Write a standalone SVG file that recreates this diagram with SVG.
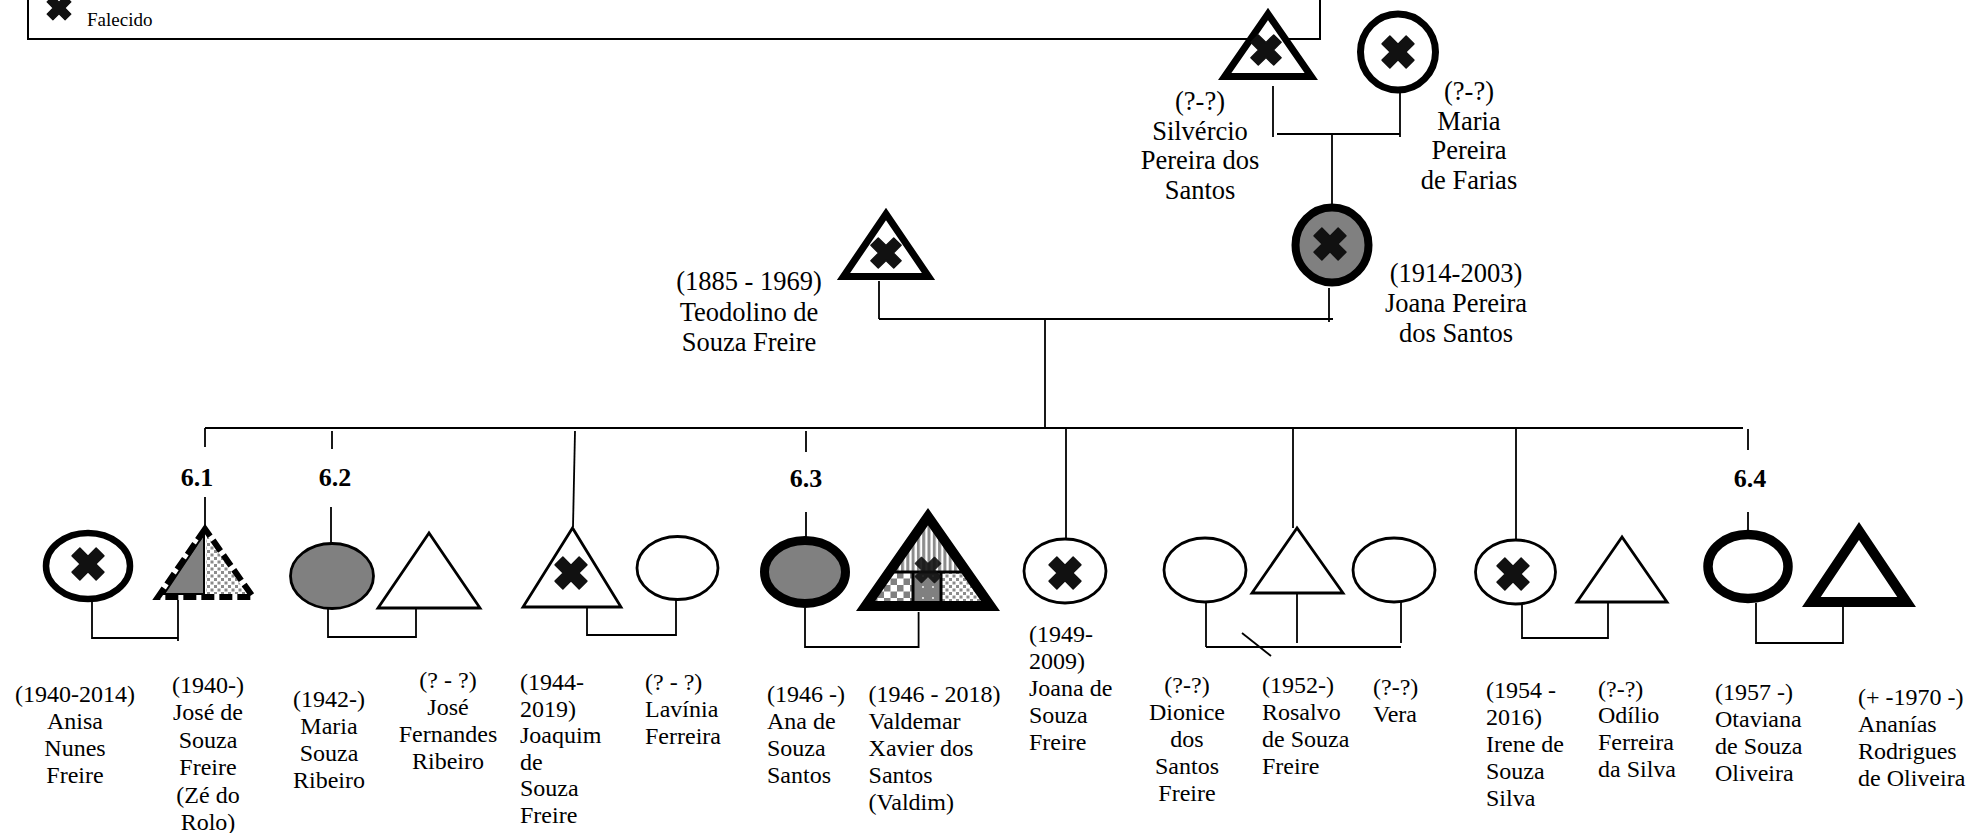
<svg xmlns="http://www.w3.org/2000/svg" xmlns:xlink="http://www.w3.org/1999/xlink" width="1982" height="833" viewBox="0 0 1982 833">
  <style>
    .ln { stroke: #000; stroke-width: 1.8; fill: none; }
    .t { font-family: "Liberation Serif", "Times New Roman", serif; font-size: 24px; fill: #000; }
    .tt { font-size: 26.5px; }
    .c { text-anchor: middle; }
    .lbl { font-family: "Liberation Serif", "Times New Roman", serif; font-size: 26px; font-weight: bold; text-anchor: middle; fill: #000; }
    .thin { fill: #fff; stroke: #000; stroke-width: 2.8; }
    .thick { fill: #fff; stroke: #000; stroke-width: 7; stroke-linejoin: miter; }
    .heavy { fill: #fff; stroke: #000; stroke-width: 9.5; stroke-linejoin: miter; }
    .gray { fill: #808080; }
  </style>
  <defs>
    <!-- deceased mark: a bold X -->
    <path id="xm" d="M-5.5,-17 H5.5 V-5.5 H17 V5.5 H5.5 V17 H-5.5 V5.5 H-17 V-5.5 H-5.5 Z" transform="rotate(45)" fill="#111" stroke="#111" stroke-width="1.5" stroke-linejoin="round"/>
    <pattern id="dots" width="7" height="7" patternUnits="userSpaceOnUse">
      <rect width="7" height="7" fill="#fff"/>
      <rect x="0.5" y="0.5" width="3" height="3" fill="#8c8c8c"/>
      <rect x="4" y="4" width="3" height="3" fill="#8c8c8c"/>
    </pattern>
    <pattern id="vstripes" width="5.3" height="6" patternUnits="userSpaceOnUse">
      <rect width="5.3" height="6" fill="#fff"/>
      <rect width="3" height="6" fill="#8c8c8c"/>
    </pattern>
    <pattern id="checker" width="13" height="13" patternUnits="userSpaceOnUse">
      <rect width="13" height="13" fill="#fff"/>
      <rect width="6.5" height="6.5" fill="#808080"/>
      <rect x="6.5" y="6.5" width="6.5" height="6.5" fill="#808080"/>
    </pattern>
    <pattern id="speck" width="10" height="11" patternUnits="userSpaceOnUse">
      <rect width="10" height="11" fill="#808080"/>
      <circle cx="3" cy="4" r="0.9" fill="#fff"/>
    </pattern>
    <clipPath id="valdemarClip">
      <polygon points="928,516.7 865.6,606 990.4,606"/>
    </clipPath>
  </defs>

  <rect width="1982" height="833" fill="#fff"/>

  <!-- legend (lower part) -->
  <g id="legend">
    <rect x="28" y="-20" width="1292" height="59" fill="#fff" stroke="#000" stroke-width="2"/>
    <use href="#xm" transform="translate(59,8) scale(0.75)"/>
    <text class="t" x="87" y="26" style="font-size:19px">Falecido</text>
  </g>

  <!-- connectors -->
  <g id="connectors" class="ln">
    <!-- Silvércio + Maria -->
    <line x1="1273" y1="86" x2="1273" y2="137"/>
    <line x1="1277" y1="134" x2="1400" y2="134"/>
    <line x1="1400" y1="93" x2="1400" y2="137"/>
    <line x1="1332" y1="134" x2="1332" y2="206"/>
    <!-- Teodolino + Joana Pereira -->
    <line x1="879" y1="281" x2="879" y2="319"/>
    <line x1="879" y1="319" x2="1333" y2="319"/>
    <line x1="1329" y1="288" x2="1329" y2="322"/>
    <line x1="1045" y1="319" x2="1045" y2="428"/>
    <!-- sibling line -->
    <line x1="205" y1="428" x2="1743" y2="428"/>
    <line x1="205" y1="428" x2="205" y2="447"/>
    <line x1="205" y1="497" x2="205" y2="526"/>
    <line x1="332" y1="431" x2="332" y2="449"/>
    <line x1="331" y1="507" x2="331" y2="543"/>
    <line x1="575" y1="431" x2="573" y2="527"/>
    <line x1="806" y1="431" x2="806" y2="452"/>
    <line x1="806" y1="512" x2="806" y2="537"/>
    <line x1="1066" y1="428" x2="1066" y2="539"/>
    <line x1="1293" y1="428" x2="1293" y2="528"/>
    <line x1="1516" y1="428" x2="1516" y2="540"/>
    <line x1="1748" y1="429" x2="1748" y2="450"/>
    <line x1="1748" y1="512" x2="1748" y2="531"/>
    <!-- couples -->
    <polyline points="92,602 92,638 178,638"/>
    <line x1="178" y1="600" x2="178" y2="641"/>
    <polyline points="328,608 328,637 416,637 416,608"/>
    <polyline points="587,607 587,635 676,635 676,600"/>
    <polyline points="805,608 805,647 918.6,647 918.6,612"/>
    <line x1="1206" y1="602" x2="1206" y2="647"/>
    <line x1="1206" y1="647" x2="1401" y2="647"/>
    <line x1="1297" y1="593" x2="1297" y2="643"/>
    <line x1="1401" y1="602" x2="1401" y2="643"/>
    <line x1="1242" y1="633" x2="1271" y2="656"/>
    <polyline points="1522,604 1522,638 1608,638 1608,602"/>
    <polyline points="1756,603 1756,643 1843,643 1843,607"/>
  </g>

  <!-- generation labels -->
  <g id="labels">
    <text class="lbl" x="197" y="486">6.1</text>
    <text class="lbl" x="335" y="486">6.2</text>
    <text class="lbl" x="806" y="487">6.3</text>
    <text class="lbl" x="1750" y="487">6.4</text>
  </g>

  <!-- grandparents -->
  <g id="silvercio">
    <polygon class="thick" points="1268,14 1224.7,76.5 1311.3,76.5"/>
    <use href="#xm" transform="translate(1266,50) scale(0.95)"/>
    <text class="t tt c"><tspan x="1200" y="110">(?-?)</tspan><tspan x="1200" y="139.5">Silvércio</tspan><tspan x="1200" y="169">Pereira dos</tspan><tspan x="1200" y="198.5">Santos</tspan></text>
  </g>
  <g id="maria-farias">
    <ellipse class="thick" cx="1398" cy="52" rx="37.5" ry="38"/>
    <use href="#xm" transform="translate(1398,52)"/>
    <text class="t tt c"><tspan x="1469" y="100">(?-?)</tspan><tspan x="1469" y="129.5">Maria</tspan><tspan x="1469" y="159">Pereira</tspan><tspan x="1469" y="188.5">de Farias</tspan></text>
  </g>

  <!-- parents -->
  <g id="teodolino">
    <polygon class="thick" points="886,214 843.5,276.5 928.5,276.5"/>
    <use href="#xm" transform="translate(886,253) scale(0.95)"/>
    <text class="t tt c"><tspan x="749" y="290">(1885 - 1969)</tspan><tspan x="749" y="320.5">Teodolino de</tspan><tspan x="749" y="351">Souza Freire</tspan></text>
  </g>
  <g id="joana-pereira">
    <ellipse class="thick gray" cx="1332" cy="245" rx="36.5" ry="37.5" style="stroke-width:8"/>
    <use href="#xm" transform="translate(1330,244)"/>
    <text class="t tt c"><tspan x="1456" y="282">(1914-2003)</tspan><tspan x="1456" y="312">Joana Pereira</tspan><tspan x="1456" y="342">dos Santos</tspan></text>
  </g>

  <!-- children and spouses -->
  <g id="anisa">
    <ellipse class="thick" cx="88" cy="566" rx="42" ry="33" style="stroke-width:6.5"/>
    <use href="#xm" transform="translate(88,564)"/>
    <text class="t c"><tspan x="75" y="702">(1940-2014)</tspan><tspan x="75" y="729">Anisa</tspan><tspan x="75" y="756">Nunes</tspan><tspan x="75" y="783">Freire</tspan></text>
  </g>
  <g id="jose-souza">
    <polygon points="206,534 206,594 247,594" fill="url(#dots)"/>
    <polygon points="204,534 164,594 204,594" fill="#808080" stroke="#000" stroke-width="2"/>
    <polygon points="205,529 158,597 253,597" fill="none" stroke="#000" stroke-width="6" stroke-dasharray="13 5"/>
    <text class="t c"><tspan x="208" y="693">(1940-)</tspan><tspan x="208" y="720">José de</tspan><tspan x="208" y="747.5">Souza</tspan><tspan x="208" y="775">Freire</tspan><tspan x="208" y="802.5">(Zé do</tspan><tspan x="208" y="830">Rolo)</tspan></text>
  </g>
  <g id="maria-ribeiro">
    <ellipse class="thin gray" cx="332" cy="576" rx="41.5" ry="32.5"/>
    <text class="t c"><tspan x="329" y="707">(1942-)</tspan><tspan x="329" y="734">Maria</tspan><tspan x="329" y="761">Souza</tspan><tspan x="329" y="788">Ribeiro</tspan></text>
  </g>
  <g id="jose-fernandes">
    <polygon class="thin" points="429,533 378,608 480,608"/>
    <text class="t c"><tspan x="448" y="688">(? - ?)</tspan><tspan x="448" y="715">José</tspan><tspan x="448" y="742">Fernandes</tspan><tspan x="448" y="769">Ribeiro</tspan></text>
  </g>
  <g id="joaquim">
    <polygon class="thin" points="572.5,528 523,607 621,607"/>
    <use href="#xm" transform="translate(571,573)"/>
    <text class="t"><tspan x="520" y="690">(1944-</tspan><tspan x="520" y="716.5">2019)</tspan><tspan x="520" y="743">Joaquim</tspan><tspan x="520" y="769.5">de</tspan><tspan x="520" y="796">Souza</tspan><tspan x="520" y="822.5">Freire</tspan></text>
  </g>
  <g id="lavinia">
    <ellipse class="thin" cx="677.5" cy="568" rx="40.5" ry="31.5"/>
    <text class="t"><tspan x="645" y="690">(? - ?)</tspan><tspan x="645" y="717">Lavínia</tspan><tspan x="645" y="744">Ferreira</tspan></text>
  </g>
  <g id="ana">
    <ellipse class="gray" cx="805" cy="572" rx="40.5" ry="31.5" stroke="#000" stroke-width="9"/>
    <text class="t"><tspan x="767" y="702">(1946 -)</tspan><tspan x="767" y="729">Ana de</tspan><tspan x="767" y="756">Souza</tspan><tspan x="767" y="783">Santos</tspan></text>
  </g>
  <g id="valdemar">
    <g clip-path="url(#valdemarClip)">
      <rect x="860" y="510" width="135" height="62" fill="url(#vstripes)"/>
      <rect x="860" y="572" width="53" height="40" fill="url(#checker)"/>
      <rect x="913" y="572" width="28" height="40" fill="url(#speck)"/>
      <rect x="941" y="572" width="55" height="40" fill="url(#dots)"/>
      <line x1="860" y1="572" x2="995" y2="572" stroke="#000" stroke-width="3"/>
      <line x1="913" y1="572" x2="913" y2="610" stroke="#000" stroke-width="3"/>
      <line x1="941" y1="572" x2="941" y2="610" stroke="#000" stroke-width="3"/>
    </g>
    <polygon points="928,516.7 865.6,606 990.4,606" fill="none" stroke="#000" stroke-width="10" stroke-linejoin="miter"/>
    <use href="#xm" transform="translate(928,570) scale(0.8)" opacity="0.9"/>
    <text class="t"><tspan x="868.6" y="702">(1946 - 2018)</tspan><tspan x="868.6" y="729">Valdemar</tspan><tspan x="868.6" y="756">Xavier dos</tspan><tspan x="868.6" y="783">Santos</tspan><tspan x="868.6" y="810">(Valdim)</tspan></text>
  </g>
  <g id="joana-souza">
    <ellipse class="thin" cx="1065" cy="571" rx="41" ry="32"/>
    <use href="#xm" transform="translate(1065,573)"/>
    <text class="t"><tspan x="1029" y="642">(1949-</tspan><tspan x="1029" y="669">2009)</tspan><tspan x="1029" y="696">Joana de</tspan><tspan x="1029" y="723">Souza</tspan><tspan x="1029" y="750">Freire</tspan></text>
  </g>
  <g id="dionice">
    <ellipse class="thin" cx="1205" cy="570" rx="41" ry="32"/>
    <text class="t c"><tspan x="1187" y="693">(?-?)</tspan><tspan x="1187" y="720">Dionice</tspan><tspan x="1187" y="747">dos</tspan><tspan x="1187" y="774">Santos</tspan><tspan x="1187" y="801">Freire</tspan></text>
  </g>
  <g id="rosalvo">
    <polygon class="thin" points="1297,528 1252,593 1343,593"/>
    <text class="t"><tspan x="1262" y="693">(1952-)</tspan><tspan x="1262" y="720">Rosalvo</tspan><tspan x="1262" y="747">de Souza</tspan><tspan x="1262" y="774">Freire</tspan></text>
  </g>
  <g id="vera">
    <ellipse class="thin" cx="1394" cy="570" rx="41" ry="32"/>
    <text class="t"><tspan x="1373" y="695">(?-?)</tspan><tspan x="1373" y="722">Vera</tspan></text>
  </g>
  <g id="irene">
    <ellipse class="thin" cx="1515.5" cy="572" rx="40" ry="32"/>
    <use href="#xm" transform="translate(1513,574)"/>
    <text class="t"><tspan x="1486" y="698">(1954 -</tspan><tspan x="1486" y="725">2016)</tspan><tspan x="1486" y="752">Irene de</tspan><tspan x="1486" y="779">Souza</tspan><tspan x="1486" y="806">Silva</tspan></text>
  </g>
  <g id="odilio">
    <polygon class="thin" points="1622,537 1577,602 1667,602"/>
    <text class="t"><tspan x="1598" y="697">(?-?)</tspan><tspan x="1598" y="723">Odílio</tspan><tspan x="1598" y="750">Ferreira</tspan><tspan x="1598" y="777">da Silva</tspan></text>
  </g>
  <g id="otaviana">
    <ellipse class="heavy" cx="1748" cy="566.5" rx="40" ry="32"/>
    <text class="t"><tspan x="1715" y="700">(1957 -)</tspan><tspan x="1715" y="727">Otaviana</tspan><tspan x="1715" y="754">de Souza</tspan><tspan x="1715" y="781">Oliveira</tspan></text>
  </g>
  <g id="ananias">
    <polygon class="heavy" points="1859,531 1811.4,602 1906.6,602" style="stroke-width:10"/>
    <text class="t"><tspan x="1858" y="705">(+ -1970 -)</tspan><tspan x="1858" y="732">Ananías</tspan><tspan x="1858" y="759">Rodrigues</tspan><tspan x="1858" y="786">de Oliveira</tspan></text>
  </g>
</svg>
